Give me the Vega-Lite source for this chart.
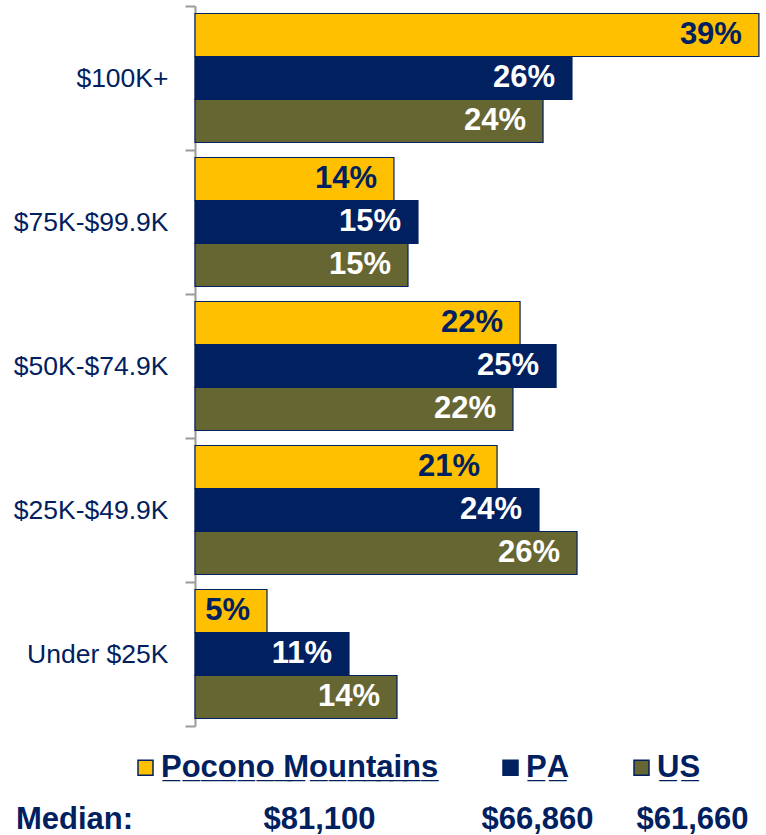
{
  "$schema": "https://vega.github.io/schema/vega-lite/v6.json",
  "width": 570,
  "height": 720,
  "autosize": "none",
  "padding": {"left": 195, "top": 6, "right": 1, "bottom": 109},
  "background": "white",
  "config": {"view": {"stroke": null}},
  "datasets": {
    "income": [
      {"bracket": "$100K+", "series": "Pocono Mountains", "pct": 39.0},
      {"bracket": "$100K+", "series": "PA", "pct": 26.07},
      {"bracket": "$100K+", "series": "US", "pct": 24.07},
      {"bracket": "$75K-$99.9K", "series": "Pocono Mountains", "pct": 13.76},
      {"bracket": "$75K-$99.9K", "series": "PA", "pct": 15.42},
      {"bracket": "$75K-$99.9K", "series": "US", "pct": 14.73},
      {"bracket": "$50K-$74.9K", "series": "Pocono Mountains", "pct": 22.48},
      {"bracket": "$50K-$74.9K", "series": "PA", "pct": 24.97},
      {"bracket": "$50K-$74.9K", "series": "US", "pct": 21.99},
      {"bracket": "$25K-$49.9K", "series": "Pocono Mountains", "pct": 20.89},
      {"bracket": "$25K-$49.9K", "series": "PA", "pct": 23.79},
      {"bracket": "$25K-$49.9K", "series": "US", "pct": 26.42},
      {"bracket": "Under $25K", "series": "Pocono Mountains", "pct": 4.98},
      {"bracket": "Under $25K", "series": "PA", "pct": 10.65},
      {"bracket": "Under $25K", "series": "US", "pct": 13.97}
    ],
    "summary": [
      {"series": "Pocono Mountains", "median": "$81,100"},
      {"series": "PA", "median": "$66,860"},
      {"series": "US", "median": "$61,660"}
    ]
  },
  "layer": [
    {
      "data": {"name": "income"},
      "transform": [{"calculate": "format(datum.pct, '.0f') + '%'", "as": "label"}],
      "encoding": {
        "y": {
          "field": "bracket",
          "type": "nominal",
          "sort": ["$100K+", "$75K-$99.9K", "$50K-$74.9K", "$25K-$49.9K", "Under $25K"],
          "scale": {"paddingInner": 0, "paddingOuter": 0},
          "axis": {
            "title": null,
            "tickBand": "extent",
            "domainColor": "#9a9a9a",
            "domainWidth": 2,
            "tickColor": "#9a9a9a",
            "tickWidth": 2,
            "tickSize": 10,
            "labelFont": "Liberation Sans",
            "labelFontSize": 26.5,
            "labelColor": "#002060",
            "labelPadding": 17,
            "labelLimit": 400
          }
        },
        "yOffset": {
          "field": "series",
          "type": "nominal",
          "sort": ["Pocono Mountains", "PA", "US"],
          "scale": {"paddingInner": 0, "paddingOuter": 0.174}
        },
        "x": {
          "field": "pct",
          "type": "quantitative",
          "scale": {"domain": [0, 39.42], "nice": false},
          "axis": null
        }
      },
      "layer": [
        {
          "mark": {"type": "bar", "stroke": "#002060", "strokeWidth": 1.2},
          "encoding": {
            "color": {
              "field": "series",
              "type": "nominal",
              "scale": {"domain": ["Pocono Mountains", "PA", "US"], "range": ["#FFC000", "#002060", "#666633"]},
              "legend": {
                "orient": "none",
                "legendX": -65,
                "legendY": 746,
                "direction": "horizontal",
                "title": null,
                "symbolType": "square",
                "symbolSize": 225,
                "symbolStrokeColor": "#002060",
                "symbolStrokeWidth": 1.5,
                "labelFont": "Liberation Sans",
                "labelFontSize": 31,
                "labelFontWeight": "bold",
                "labelColor": "#002060",
                "labelOffset": 0,
                "columnPadding": 56,
                "labelLimit": 400,
                "labelExpr": "replace(datum.label, /(.)/g, '$1\u0332')"
              }
            }
          }
        },
        {
          "mark": {"type": "text", "align": "right", "baseline": "middle", "dx": -17, "font": "Liberation Sans", "fontSize": 31, "fontWeight": "bold"},
          "encoding": {
            "text": {"field": "label"},
            "color": {"condition": {"test": "datum.series === 'Pocono Mountains'", "value": "#002060"}, "value": "white"}
          }
        }
      ]
    },
    {
      "data": {"name": "summary"},
      "encoding": {
        "x": {
          "field": "series",
          "type": "nominal",
          "scale": {"type": "point", "domain": ["Pocono Mountains", "PA", "US"], "range": [124.5, 497.5], "padding": 0},
          "axis": null
        },
        "y": {
          "datum": "median",
          "type": "nominal",
          "scale": {"type": "point", "domain": ["median"], "range": [823, 823], "padding": 0},
          "axis": null
        }
      },
      "layer": [
        {
          "transform": [{"filter": "datum.series !== 'PA'"}],
          "mark": {"type": "text", "align": "center", "baseline": "alphabetic", "font": "Liberation Sans", "fontSize": 31, "fontWeight": "bold", "color": "#002060"},
          "encoding": {"text": {"field": "median"}}
        },
        {
          "transform": [{"filter": "datum.series === 'PA'"}],
          "mark": {"type": "text", "align": "center", "baseline": "alphabetic", "dx": 31.5, "font": "Liberation Sans", "fontSize": 31, "fontWeight": "bold", "color": "#002060"},
          "encoding": {"text": {"field": "median"}}
        },
        {
          "data": {"values": [{"label": "Median:"}]},
          "mark": {"type": "text", "align": "left", "baseline": "alphabetic", "dx": -303.5, "font": "Liberation Sans", "fontSize": 31, "fontWeight": "bold", "color": "#002060"},
          "encoding": {"text": {"field": "label"}, "x": {"datum": "Pocono Mountains", "type": "nominal"}}
        }
      ]
    }
  ],
  "resolve": {"scale": {"x": "independent", "y": "independent"}}
}
